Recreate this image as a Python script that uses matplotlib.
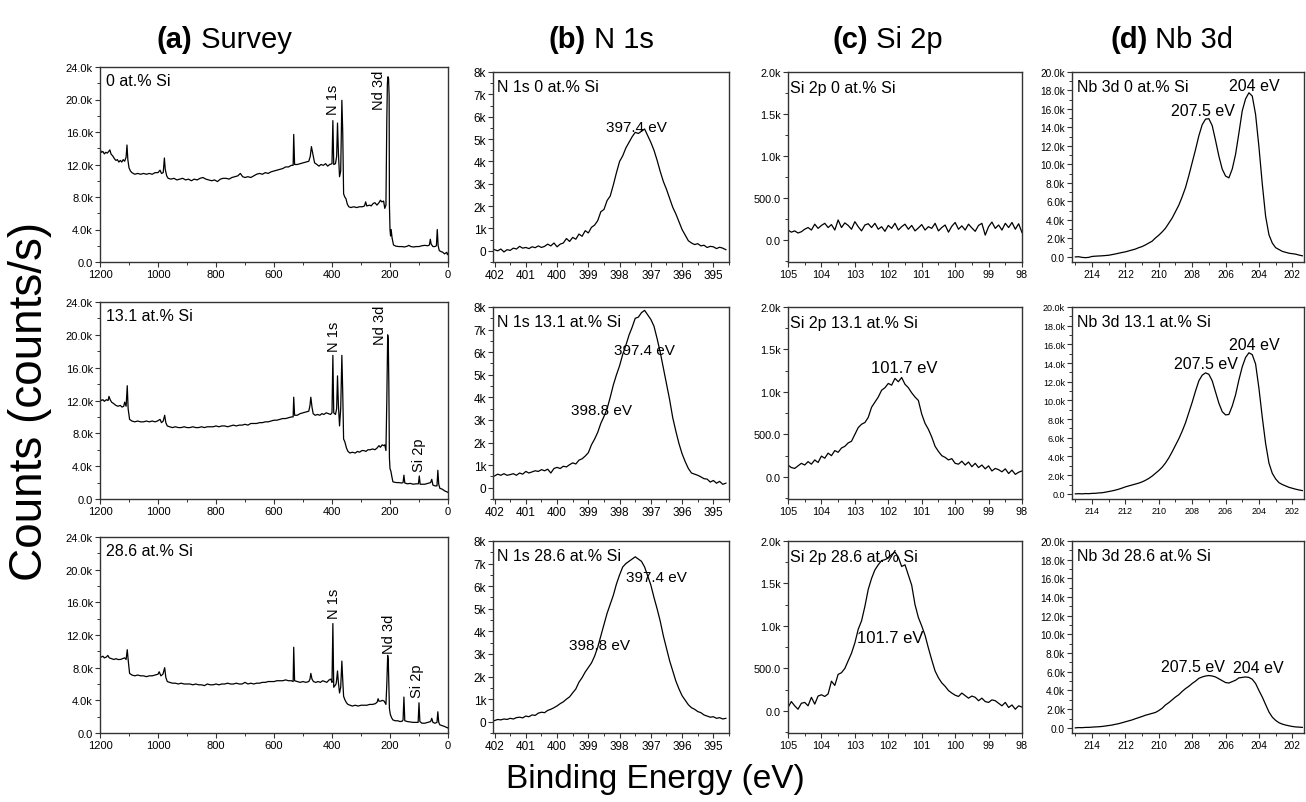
import numpy as np
import matplotlib
matplotlib.use('Agg')
import matplotlib.pyplot as plt
from matplotlib.ticker import MultipleLocator, FuncFormatter

plt.rcParams['font.family'] = ['Liberation Sans', 'DejaVu Sans']

# Si content of the three films (one row each)
samples = ['0 at.% Si', '13.1 at.% Si', '28.6 at.% Si']

# ---- survey spectra (binding energy in eV, counts in k counts/s) ----
survey_e_0 = [1200, 1195, 1190, 1185, 1180, 1175, 1170, 1166, 1162, 1155, 1150, 1145, 1140, 1135, 1130, 1125,
              1120, 1115, 1110, 1107, 1104, 1100, 1095, 1090, 1080, 1070, 1060, 1050, 1040, 1030, 1020, 1010,
              1000, 993, 988, 982, 978, 975, 970, 965, 955, 945, 935, 925, 915, 905, 895, 885, 875, 865, 855,
              845, 835, 825, 815, 805, 795, 785, 775, 765, 755, 745, 735, 725, 716, 708, 700, 690, 680, 670,
              660, 650, 640, 630, 620, 610, 600, 590, 580, 570, 560, 550, 540, 534, 532, 529, 520, 510, 500,
              490, 480, 475, 471, 466, 460, 452, 445, 438, 430, 422, 415, 408, 400, 397, 394, 388, 384, 381,
              378, 374, 370, 366, 363, 360, 356, 352, 347, 342, 335, 325, 315, 305, 295, 288, 284, 280, 270,
              265, 258, 252, 245, 238, 233, 228, 222, 218, 214, 211, 209, 207, 205, 203, 202, 200, 198, 196,
              193, 188, 180, 170, 160, 150, 140, 135, 128, 118, 110, 100, 90, 80, 70, 64, 61, 58, 52, 45, 40,
              37, 34, 30, 25, 18, 12, 8, 4, 2, 0]
survey_c_0 = [13.9, 13.5, 13.6, 13.3, 13.5, 13.4, 13.6, 13.8, 13.3, 13.0, 12.7, 12.5, 12.6, 12.3, 12.5, 12.3,
              12.6, 12.4, 12.9, 14.4, 12.6, 11.6, 11.2, 11.0, 10.8, 10.9, 10.8, 10.9, 10.8, 10.9, 10.8, 11.0,
              11.0, 11.3, 10.9, 11.0, 12.8, 11.4, 10.6, 10.3, 10.2, 10.3, 10.1, 10.2, 10.3, 10.1, 10.2, 10.0,
              10.2, 10.1, 10.3, 10.4, 10.2, 10.1, 10.0, 10.1, 9.9, 10.2, 10.3, 10.3, 10.2, 10.4, 10.5, 10.6,
              10.9, 10.5, 10.4, 10.5, 10.4, 10.6, 10.8, 10.9, 10.8, 11.0, 10.9, 11.1, 11.2, 11.3, 11.4, 11.5,
              11.7, 11.7, 11.9, 11.9, 15.7, 12.0, 12.0, 12.1, 12.2, 12.3, 12.4, 13.0, 14.2, 13.3, 12.2, 12.0,
              11.8, 12.0, 11.9, 12.1, 11.8, 12.0, 12.1, 17.4, 12.0, 12.1, 13.0, 17.1, 13.5, 10.5, 11.2, 19.9,
              16.0, 8.4, 8.0, 7.8, 7.1, 6.8, 6.7, 6.8, 6.7, 6.8, 6.8, 6.9, 7.4, 6.9, 7.0, 6.9, 7.2, 7.3, 7.0,
              7.3, 7.6, 7.4, 7.5, 6.6, 7.0, 17.5, 22.0, 22.8, 22.6, 20.5, 7.0, 4.0, 3.2, 4.0, 3.0, 2.1, 1.95,
              1.9, 1.9, 1.85, 1.95, 2.05, 1.9, 1.85, 1.9, 1.9, 2.0, 2.05, 2.0, 2.1, 2.8, 2.2, 1.9, 1.9, 2.0,
              4.0, 2.0, 1.4, 1.3, 1.2, 1.0, 1.1, 1.2, 0.9, 1.0]

survey_e_13 = [1200, 1195, 1190, 1185, 1178, 1172, 1169, 1165, 1160, 1152, 1145, 1138, 1130, 1124, 1118, 1115,
               1110, 1106, 1103, 1098, 1090, 1080, 1070, 1060, 1050, 1040, 1030, 1020, 1010, 1002, 993, 988,
               982, 977, 973, 968, 960, 950, 940, 930, 920, 910, 900, 890, 880, 870, 860, 850, 840, 830, 820,
               810, 800, 790, 780, 770, 760, 750, 740, 730, 720, 710, 700, 690, 680, 670, 660, 650, 640, 630,
               620, 610, 600, 590, 580, 570, 560, 550, 540, 534, 532, 529, 520, 510, 500, 490, 480, 476, 473,
               469, 465, 458, 450, 442, 435, 428, 420, 412, 405, 400, 397, 394, 388, 384, 381, 378, 374, 370,
               366, 363, 360, 356, 350, 345, 338, 330, 320, 312, 305, 297, 290, 283, 276, 268, 260, 252, 245,
               238, 233, 227, 222, 218, 214, 211, 208, 206, 204, 202, 200, 197, 194, 190, 185, 178, 170, 160,
               155, 152, 149, 140, 130, 120, 110, 102, 99, 96, 90, 80, 70, 60, 56, 52, 45, 38, 35, 32, 28, 20,
               12, 6, 2, 0]
survey_c_13 = [12.2, 12.0, 12.1, 11.9, 12.1, 12.0, 12.5, 12.1, 11.8, 11.6, 11.4, 11.3, 11.4, 11.2, 11.3, 11.8,
               11.3, 13.8, 11.0, 9.7, 9.5, 9.4, 9.5, 9.4, 9.4, 9.5, 9.4, 9.5, 9.4, 9.5, 9.7, 9.3, 9.5, 10.2,
               9.3, 8.9, 8.8, 8.7, 8.8, 8.7, 8.7, 8.8, 8.7, 8.7, 8.8, 8.7, 8.7, 8.8, 8.7, 8.8, 8.8, 8.8, 8.9,
               8.8, 8.9, 8.9, 8.8, 8.9, 9.0, 8.9, 9.0, 9.0, 9.1, 9.0, 9.2, 9.2, 9.2, 9.3, 9.3, 9.4, 9.4, 9.5,
               9.6, 9.6, 9.7, 9.8, 9.8, 9.9, 10.0, 10.0, 12.4, 10.2, 10.2, 10.4, 10.5, 10.6, 10.7, 11.4, 12.4,
               11.2, 10.4, 10.2, 10.3, 10.2, 10.4, 10.3, 10.5, 10.4, 10.3, 10.5, 17.5, 10.5, 10.3, 11.0, 15.0,
               11.5, 8.9, 11.0, 17.5, 13.0, 7.3, 7.0, 6.2, 5.8, 5.6, 5.7, 5.6, 5.8, 5.7, 5.9, 5.9, 5.8, 6.0,
               6.0, 6.1, 6.0, 6.2, 6.5, 6.3, 6.6, 6.5, 6.6, 5.9, 12.0, 20.0, 19.5, 14.0, 5.0, 3.7, 3.4, 2.8,
               2.1, 2.05, 2.0, 2.0, 1.95, 2.0, 2.9, 1.95, 1.85, 1.9, 1.8, 1.85, 1.85, 2.8, 1.8, 1.8, 1.8, 1.9,
               2.0, 2.4, 1.7, 1.6, 1.6, 3.5, 1.8, 1.3, 1.2, 1.0, 0.9, 0.85, 0.8]

survey_e_28 = [1200, 1195, 1190, 1185, 1178, 1173, 1168, 1160, 1152, 1145, 1138, 1130, 1122, 1115, 1110, 1106,
               1103, 1098, 1090, 1080, 1070, 1060, 1050, 1040, 1030, 1020, 1010, 1000, 996, 990, 983, 977,
               973, 968, 960, 950, 940, 930, 920, 910, 900, 890, 880, 870, 860, 850, 840, 830, 820, 810, 800,
               790, 780, 770, 760, 750, 740, 730, 720, 710, 700, 690, 680, 670, 660, 650, 640, 630, 620, 610,
               600, 590, 580, 570, 560, 550, 540, 534, 532, 529, 520, 510, 500, 490, 480, 476, 473, 469, 464,
               456, 448, 440, 432, 425, 418, 410, 404, 400, 397, 394, 390, 386, 384, 381, 378, 374, 370, 366,
               363, 360, 356, 350, 345, 338, 330, 320, 310, 300, 290, 280, 270, 260, 250, 244, 241, 238, 232,
               226, 220, 214, 211, 208, 206, 204, 202, 199, 195, 190, 182, 174, 165, 158, 155, 152, 149, 140,
               130, 120, 110, 103, 100, 97, 90, 80, 70, 60, 56, 52, 45, 38, 35, 32, 28, 20, 12, 6, 2, 0]
survey_c_28 = [9.4, 9.3, 9.4, 9.2, 9.3, 9.5, 9.2, 9.1, 9.0, 9.1, 9.0, 9.0, 9.1, 9.2, 9.0, 10.2, 9.0, 7.3,
               7.1, 7.0, 7.1, 7.0, 7.0, 6.9, 7.0, 7.0, 7.1, 7.2, 7.5, 7.0, 7.2, 8.0, 6.8, 6.3, 6.2, 6.1, 6.1,
               6.0, 6.1, 6.0, 6.0, 6.0, 5.9, 6.0, 5.9, 5.9, 5.8, 6.0, 5.9, 5.9, 6.0, 5.9, 6.0, 6.0, 6.1, 6.0,
               6.0, 6.1, 6.0, 6.0, 6.2, 6.0, 6.1, 6.0, 6.1, 6.1, 6.2, 6.2, 6.3, 6.3, 6.3, 6.4, 6.4, 6.4, 6.5,
               6.4, 6.4, 6.3, 10.5, 6.4, 6.3, 6.2, 6.3, 6.2, 6.3, 6.6, 7.3, 6.6, 6.3, 6.2, 6.3, 6.2, 6.4, 6.3,
               6.2, 6.5, 6.6, 6.2, 13.4, 5.6, 5.8, 6.0, 6.5, 7.6, 6.2, 4.9, 5.6, 8.8, 6.5, 4.5, 4.1, 3.7, 3.5,
               3.4, 3.3, 3.4, 3.3, 3.4, 3.4, 3.4, 3.5, 3.5, 3.6, 3.8, 4.2, 3.9, 3.9, 4.0, 3.9, 3.5, 6.0, 9.5,
               9.0, 6.0, 3.0, 2.3, 1.9, 1.6, 1.5, 1.5, 1.4, 1.45, 1.6, 4.4, 1.5, 1.4, 1.35, 1.3, 1.3, 1.3, 3.7,
               1.4, 1.2, 1.2, 1.3, 1.4, 1.8, 1.3, 1.2, 1.3, 2.6, 1.3, 1.0, 0.9, 0.8, 0.7, 0.65, 0.6]

# ---- N 1s region, 402.0 -> 394.6 eV in 0.1 eV steps (k counts/s) ----
n1s_c_0 = [0.05, 0.00, 0.08, -0.05, 0.05, 0.02, 0.12, 0.08, 0.20, 0.12,
           0.15, 0.10, 0.18, 0.14, 0.22, 0.15, 0.20, 0.30, 0.22, 0.35,
           0.18, 0.30, 0.35, 0.55, 0.42, 0.60, 0.52, 0.75, 0.65, 0.90,
           0.80, 1.05, 1.15, 1.35, 1.75, 1.85, 2.25, 2.45, 2.95, 3.50,
           4.00, 4.25, 4.60, 4.85, 5.10, 5.30, 5.25, 5.35, 5.45, 5.15,
           4.85, 4.50, 4.05, 3.55, 3.10, 2.75, 2.35, 1.95, 1.65, 1.30,
           0.95, 0.70, 0.45, 0.35, 0.28, 0.32, 0.22, 0.25, 0.15, 0.20,
           0.18, 0.10, 0.16, 0.12, 0.05]
n1s_c_13 = [0.52, 0.60, 0.55, 0.62, 0.55, 0.58, 0.62, 0.55, 0.65, 0.60,
            0.72, 0.65, 0.70, 0.75, 0.72, 0.80, 0.75, 0.82, 0.65, 0.85,
            0.90, 0.85, 0.95, 0.92, 1.02, 1.10, 1.05, 1.22, 1.28, 1.40,
            1.55, 1.90, 2.15, 2.45, 2.85, 3.15, 3.50, 4.00, 4.55, 5.00,
            5.40, 5.90, 6.30, 6.75, 7.10, 7.50, 7.55, 7.75, 7.85, 7.65,
            7.45, 7.15, 6.60, 6.00, 5.30, 4.60, 3.90, 3.10, 2.50, 1.95,
            1.50, 1.15, 0.85, 0.65, 0.60, 0.55, 0.48, 0.40, 0.38, 0.25,
            0.32, 0.20, 0.28, 0.15, 0.20]
n1s_c_28 = [0.05, 0.10, 0.08, 0.12, 0.10, 0.15, 0.12, 0.18, 0.20, 0.17,
            0.25, 0.22, 0.30, 0.28, 0.38, 0.42, 0.40, 0.50, 0.55, 0.62,
            0.70, 0.80, 0.88, 1.00, 1.10, 1.28, 1.45, 1.75, 1.95, 2.20,
            2.40, 2.60, 2.90, 3.30, 3.80, 4.30, 4.80, 5.20, 5.60, 6.10,
            6.50, 6.85, 7.00, 7.10, 7.20, 7.30, 7.20, 7.10, 6.85, 6.45,
            6.05, 5.50, 5.00, 4.45, 3.80, 3.25, 2.70, 2.25, 1.80, 1.45,
            1.15, 0.95, 0.75, 0.62, 0.55, 0.45, 0.40, 0.30, 0.25, 0.20,
            0.22, 0.15, 0.18, 0.12, 0.15]

# ---- Si 2p region, 105.0 -> 98.0 eV in 0.1 eV steps (counts/s) ----
si2p_c_0 = [120, 95, 110, 85, 100, 130, 150, 120, 190, 140,
            175, 200, 150, 185, 120, 240, 150, 205, 175, 130,
            220, 160, 110, 180, 195, 150, 200, 130, 160, 105,
            175, 140, 200, 120, 160, 190, 130, 175, 110, 145,
            185, 120, 160, 140, 200, 110, 150, 180, 95, 165,
            210, 130, 170, 120, 190, 145, 105, 175, 200, 60,
            160, 215, 140, 180, 120, 200, 150, 210, 130, 195, 90]
si2p_c_13 = [140, 110, 100, 130, 160, 140, 180, 150, 200, 170,
             245, 220, 280, 250, 310, 290, 340, 360, 400, 420,
             500, 580, 620, 640, 700, 820, 880, 940, 1020, 1050,
             1100, 1080, 1160, 1120, 1170, 1090, 1050, 990, 940, 900,
             740, 630, 560, 470, 360, 300, 250, 230, 200, 215,
             160, 150, 185, 140, 175, 120, 160, 110, 140, 95,
             130, 70, 100, 85, 60, 95, 40, 80, 30, 55, 70]
si2p_c_28 = [40, 110, 60, 20, 90, 100, 60, 160, 80, 175,
             190, 170, 200, 350, 300, 430, 450, 500, 590, 680,
             800, 960, 1060, 1230, 1430, 1560, 1660, 1720, 1770, 1780,
             1800, 1840, 1870, 1810, 1700, 1720, 1600, 1480, 1250, 1100,
             1000, 890, 740, 600, 470, 390, 330, 290, 240, 210,
             185, 170, 210, 180, 150, 175, 160, 120, 150, 110,
             100, 130, 120, 90, 60, 100, 40, 70, 20, 60, 45]

# ---- Nb 3d region, 215.0 -> 201.4 eV in 0.2 eV steps (k counts/s) ----
nb3d_c_0 = [0.00, 0.02, -0.05, -0.08, -0.05, 0.05, 0.08, 0.10, 0.12, 0.15,
            0.18, 0.25, 0.32, 0.40, 0.48, 0.55, 0.65, 0.75, 0.85, 1.00,
            1.12, 1.30, 1.50, 1.70, 2.05, 2.35, 2.70, 3.10, 3.65, 4.20,
            4.90, 5.60, 6.50, 7.50, 8.80, 10.2, 11.6, 13.1, 14.3, 14.9,
            14.95, 14.2, 12.6, 10.9, 9.5, 8.75, 8.55, 9.5, 11.1, 13.4,
            15.8, 17.1, 17.75, 17.4, 15.4, 11.9, 7.9, 4.4, 2.4, 1.5,
            1.0, 0.8, 0.6, 0.5, 0.4, 0.35, 0.3, 0.2, 0.12]
nb3d_c_13 = [0.00, 0.02, 0.00, 0.03, 0.02, 0.05, 0.06, 0.10, 0.12, 0.18,
             0.25, 0.32, 0.40, 0.50, 0.62, 0.75, 0.85, 0.95, 1.05, 1.15,
             1.28, 1.45, 1.65, 1.90, 2.20, 2.50, 2.85, 3.30, 3.85, 4.50,
             5.20, 5.90, 6.70, 7.60, 8.70, 9.80, 11.0, 12.1, 12.7, 12.95,
             12.8, 12.1, 10.9, 9.7, 8.8, 8.45, 8.5, 9.4, 10.6, 12.2,
             13.6, 14.6, 15.1, 14.9, 13.9, 11.3, 8.2, 5.4, 3.3, 2.2,
             1.6, 1.2, 1.0, 0.85, 0.7, 0.6, 0.5, 0.42, 0.35]
nb3d_c_28 = [0.00, 0.03, 0.02, 0.05, 0.05, 0.08, 0.10, 0.12, 0.15, 0.20,
             0.25, 0.30, 0.38, 0.45, 0.55, 0.65, 0.75, 0.85, 0.98, 1.10,
             1.22, 1.35, 1.45, 1.55, 1.65, 1.85, 2.10, 2.45, 2.70, 3.00,
             3.30, 3.55, 3.90, 4.20, 4.45, 4.75, 5.00, 5.30, 5.45, 5.55,
             5.60, 5.55, 5.45, 5.25, 5.05, 4.85, 4.80, 4.95, 5.10, 5.35,
             5.40, 5.45, 5.40, 5.20, 4.75, 4.00, 3.30, 2.50, 1.70, 1.15,
             0.80, 0.55, 0.40, 0.30, 0.22, 0.15, 0.10, 0.08, 0.05]

# scan windows: (first energy, last energy)
n1s_scan = (402.0, 394.6)
si2p_scan = (105.0, 98.0)
nb3d_scan = (215.0, 201.4)

W, H = 1306, 803
fig = plt.figure(figsize=(W / 100, H / 100), dpi=100)


def add_panel(x0, x1, y0, y1):
    # pixel box -> figure fraction
    return fig.add_axes([x0 / W, 1 - y1 / H, (x1 - x0) / W, (y1 - y0) / H])


def style(ax, size=8):
    for s in ax.spines.values():
        s.set_color('#333333')
        s.set_linewidth(1.0)
    ax.tick_params(which='major', direction='out', length=3.5, width=0.8, labelsize=size, pad=1.5,
                   color='#333333')
    ax.tick_params(which='minor', direction='out', length=2, width=0.7, color='#333333')


def fmt_1k(v, pos):
    return '0.0' if abs(v) < 1e-6 else '%.1fk' % (v / 1000)


def fmt_k(v, pos):
    return '0' if abs(v) < 1e-6 else '%dk' % round(v / 1000)


def fmt_si(v, pos):
    return '%.1f' % v if v < 1000 else '%.1fk' % (v / 1000)


rows_y = [(68, 263), (303, 500), (538, 734)]
rows_y2 = [(73, 263), (308, 500), (542, 734)]
line_kw = dict(color='black', lw=0.9)
txt = 11.5

survey_e = [survey_e_0, survey_e_13, survey_e_28]
survey_c = [survey_c_0, survey_c_13, survey_c_28]
n1s_c = [n1s_c_0, n1s_c_13, n1s_c_28]
si2p_c = [si2p_c_0, si2p_c_13, si2p_c_28]
nb3d_c = [nb3d_c_0, nb3d_c_13, nb3d_c_28]

# peak markers on the surveys: (label, energy, k counts/s)
survey_marks = [
    [('N 1s', 397, 18.2), ('Nd 3d', 238, 18.8)],
    [('N 1s', 393, 18.0), ('Nd 3d', 234, 18.9), ('Si 2p', 100, 3.4)],
    [('N 1s', 393, 14.1), ('Nd 3d', 203, 9.8), ('Si 2p', 107, 4.4)],
]
n1s_marks = [
    [('397.4 eV', 397.45, 5.55)],
    [('397.4 eV', 397.19, 6.1), ('398.8 eV', 398.58, 3.45)],
    [('397.4 eV', 396.81, 6.4), ('398.8 eV', 398.63, 3.4)],
]
si2p_marks = [[], [('101.7 eV', 101.53, 1290)], [('101.7 eV', 101.95, 860)]]
nb3d_marks = [
    [('204 eV', 204.3, 18.55), ('207.5 eV', 207.33, 15.85)],
    [('204 eV', 204.26, 16.0), ('207.5 eV', 207.17, 13.9)],
    [('207.5 eV', 207.93, 6.55), ('204 eV', 204.06, 6.5)],
]

top_axes = []
for r in range(3):
    # (a) survey
    ax = add_panel(100, 448, *rows_y[r])
    ax.plot(survey_e[r], np.array(survey_c[r]) * 1000, **line_kw)
    ax.set_xlim(1200, 0)
    ax.set_ylim(0, 24000)
    ax.xaxis.set_major_locator(MultipleLocator(200))
    ax.xaxis.set_minor_locator(MultipleLocator(100))
    ax.yaxis.set_major_locator(MultipleLocator(4000))
    ax.yaxis.set_minor_locator(MultipleLocator(2000))
    ax.yaxis.set_major_formatter(FuncFormatter(fmt_1k))
    style(ax, 8)
    ax.text(1180, 22400, samples[r], fontsize=txt, va='center', ha='left')
    for lab, e, c in survey_marks[r]:
        ax.text(e, c * 1000, lab, rotation=90, ha='center', va='bottom', fontsize=10.5)
    if r == 0:
        top_axes.append(ax)

    # (b) N 1s
    ax = add_panel(493, 729, *rows_y2[r])
    e = np.linspace(n1s_scan[0], n1s_scan[1], len(n1s_c[r]))
    ax.plot(e, np.array(n1s_c[r]) * 1000, **line_kw)
    ax.set_xlim(402.05, 394.5)
    ax.set_ylim(-500, 8000)
    ax.xaxis.set_major_locator(MultipleLocator(1))
    ax.xaxis.set_minor_locator(MultipleLocator(0.5))
    ax.yaxis.set_major_locator(MultipleLocator(1000))
    ax.yaxis.set_minor_locator(MultipleLocator(500))
    ax.yaxis.set_major_formatter(FuncFormatter(fmt_k))
    ax.xaxis.set_major_formatter(FuncFormatter(lambda v, p: '%d' % round(v)))
    style(ax, 8.5)
    ax.text(401.93, 7350, 'N 1s ' + samples[r], fontsize=txt, va='center', ha='left')
    for lab, x, c in n1s_marks[r]:
        ax.text(x, c * 1000, lab, fontsize=11, ha='center', va='center')

    # (c) Si 2p
    ax = add_panel(788, 1022, *rows_y2[r])
    e = np.linspace(si2p_scan[0], si2p_scan[1], len(si2p_c[r]))
    ax.plot(e, si2p_c[r], **line_kw)
    ax.set_xlim(105, 98)
    ax.set_ylim(-260, 2000)
    ax.xaxis.set_major_locator(MultipleLocator(1))
    ax.xaxis.set_minor_locator(MultipleLocator(0.5))
    ax.yaxis.set_major_locator(MultipleLocator(500))
    ax.yaxis.set_minor_locator(MultipleLocator(250))
    ax.yaxis.set_major_formatter(FuncFormatter(fmt_si))
    ax.xaxis.set_major_formatter(FuncFormatter(lambda v, p: '%d' % round(v)))
    style(ax, 7.8)
    ax.text(104.93, 1820, 'Si 2p ' + samples[r], fontsize=txt, va='center', ha='left')
    for lab, x, c in si2p_marks[r]:
        ax.text(x, c, lab, fontsize=12, ha='center', va='center')

    # (d) Nb 3d
    ax = add_panel(1072, 1304, *rows_y2[r])
    e = np.linspace(nb3d_scan[0], nb3d_scan[1], len(nb3d_c[r]))
    ax.plot(e, np.array(nb3d_c[r]) * 1000, **line_kw)
    ax.set_xlim(215.2, 201.3)
    ax.set_ylim(-550, 20000)
    ax.xaxis.set_major_locator(MultipleLocator(2))
    ax.xaxis.set_minor_locator(MultipleLocator(1))
    ax.yaxis.set_major_locator(MultipleLocator(2000))
    ax.yaxis.set_minor_locator(MultipleLocator(1000))
    ax.yaxis.set_major_formatter(FuncFormatter(fmt_1k))
    ax.xaxis.set_major_formatter(FuncFormatter(lambda v, p: '%d' % round(v)))
    style(ax, 6.5 if r == 1 else 7.3)
    ax.text(214.9, 18400, 'Nb 3d ' + samples[r], fontsize=txt, va='center', ha='left')
    for lab, x, c in nb3d_marks[r]:
        ax.text(x, c * 1000, lab, fontsize=11.5, ha='center', va='center')

# column headings: bold letter + plain name
heads = [('(a)', 'Survey', 157), ('(b)', 'N 1s', 549), ('(c)', 'Si 2p', 832), ('(d)', 'Nb 3d', 1110)]
for letter, name, xp in heads:
    t = fig.text(xp / W, 1 - 48 / H, letter, fontsize=21, fontweight='bold', ha='left', va='baseline')
    top_axes[0].annotate(' ' + name, xy=(1, 0), xycoords=t, fontsize=21, ha='left', va='bottom',
                         annotation_clip=False)

fig.text(30 / W, 0.5, 'Counts (counts/s)', rotation=90, fontsize=33, ha='center', va='center')
fig.text(655 / W, 1 - 780 / H, 'Binding Energy (eV)', fontsize=24, ha='center', va='center')

plt.savefig('out.png', dpi=100)
